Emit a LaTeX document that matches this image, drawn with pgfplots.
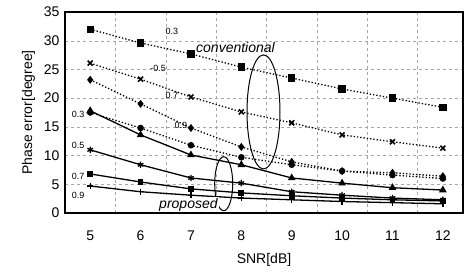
\documentclass[border=0pt]{standalone}
\usepackage{pgfplots}
\pgfplotsset{compat=1.18}
\usepackage{fontspec}
\setmainfont{Liberation Sans}
\begin{document}
\begin{tikzpicture}
\begin{axis}[name=ax,
  scale only axis, width=398pt, height=201pt,
  xmin=4.5, xmax=12.4, ymin=0, ymax=35,
  xtick={5,6,...,12}, ytick={0,5,...,35},
  minor xtick={5.5,6.5,...,11.5},
  ymajorgrids, xminorgrids,
  major grid style={dashed, gray!70},
  minor grid style={dashed, gray!70},
  major tick length=0pt, minor tick length=0pt,
  axis line style={line width=1.2pt},
  tick label style={font=\fontsize{14}{14}\selectfont},
  xticklabel style={yshift=-14pt},
  yticklabel style={xshift=-2pt},
  /pgf/number format/assume math mode=true,
  xlabel={SNR[dB]}, ylabel={Phase error[degree]},
  label style={font=\fontsize{14}{14}\selectfont},
  xlabel style={yshift=-6pt},
  ylabel style={yshift=2pt},
  clip=false,
]
% conventional (dotted)
\addplot[black, dotted, line width=1.3pt, mark=square*, mark size=3pt, mark options={solid}] coordinates {(5,32.0)(6,29.6)(7,27.7)(8,25.4)(9,23.5)(10,21.6)(11,20.0)(12,18.4)};
\addplot[black, dotted, line width=1.3pt, mark=x, mark size=3.5pt, mark options={solid, line width=1.6pt}] coordinates {(5,26.1)(6,23.3)(7,20.2)(8,17.6)(9,15.7)(10,13.6)(11,12.4)(12,11.3)};
\addplot[black, dotted, line width=1.3pt, mark=diamond*, mark size=3pt, mark options={solid}] coordinates {(5,23.2)(6,19.0)(7,14.8)(8,11.5)(9,8.9)(10,7.3)(11,7.0)(12,6.4)};
\addplot[black, dotted, line width=1.3pt, mark=*, mark size=2.6pt, mark options={solid}] coordinates {(5,17.5)(6,14.8)(7,11.8)(8,9.7)(9,8.4)(10,7.3)(11,6.6)(12,6.0)};
% proposed (solid)
\addplot[black, line width=1.3pt, mark=triangle*, mark size=3.2pt] coordinates {(5,17.8)(6,13.6)(7,10.1)(8,8.4)(9,6.1)(10,5.2)(11,4.4)(12,4.0)};
\addplot[black, line width=1.3pt, mark=asterisk, mark size=3.2pt] coordinates {(5,11.0)(6,8.4)(7,6.1)(8,5.2)(9,3.7)(10,3.1)(11,2.6)(12,2.3)};
\addplot[black, line width=1.3pt, mark=square*, mark size=2.2pt] coordinates {(5,6.8)(6,5.4)(7,4.2)(8,3.5)(9,3.0)(10,2.6)(11,2.3)(12,2.1)};
\addplot[black, line width=1.3pt, mark=+, mark size=3pt] coordinates {(5,4.7)(6,3.7)(7,3.1)(8,2.6)(9,2.3)(10,2.0)(11,1.8)(12,1.6)};
% ellipses
\draw[black, line width=1pt] (axis cs:8.44,17.6) ellipse [x radius=16.5pt, y radius=57pt];
\draw[black, line width=1pt] (axis cs:7.65,5.1) ellipse [x radius=9pt, y radius=27pt];
% labels
\node[font=\fontsize{14}{14}\selectfont\itshape, anchor=west, inner sep=0pt] at (axis cs:7.1,28.9) {conventional};
\node[font=\fontsize{14}{14}\selectfont\itshape, fill=white, inner sep=1pt] at (axis cs:6.95,1.5) {proposed};
\begin{scope}[every node/.style={font=\fontsize{9}{9}\selectfont, inner sep=1pt}]
\node at (axis cs:6.62,31.7) {0.3};
\node at (axis cs:6.35,25.2) {-0.5};
\node at (axis cs:6.62,20.4) {0.7};
\node at (axis cs:6.8,15.2) {0.9};
\node at (axis cs:4.76,17.2) {0.3};
\node at (axis cs:4.76,11.7) {0.5};
\node at (axis cs:4.76,6.3) {0.7};
\node at (axis cs:4.76,3.0) {0.9};
\end{scope}
\end{axis}
\path[use as bounding box] ([xshift=-65pt,yshift=-64pt]ax.south west) rectangle ([xshift=2pt,yshift=12pt]ax.north east);
\end{tikzpicture}
\end{document}
